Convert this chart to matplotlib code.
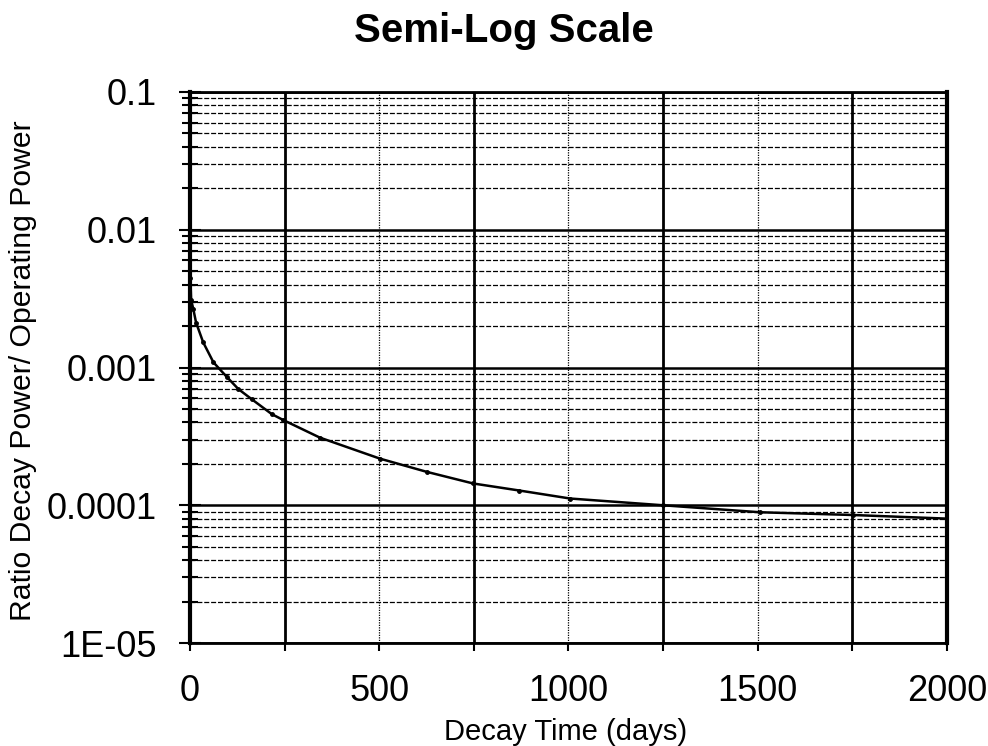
import matplotlib
matplotlib.use("Agg")
import matplotlib.pyplot as plt
from matplotlib.ticker import MultipleLocator, LogLocator, FixedFormatter, FixedLocator, NullFormatter

plt.rcParams['font.family'] = ['Liberation Sans', 'DejaVu Sans']

# Decay power ratio
decay_days = [1, 3, 9, 16, 35, 62, 98, 128, 163, 216, 247, 343, 502, 625, 748, 870, 1004, 1250, 1506, 1752, 2000]
power_ratio = [0.0045, 0.0031, 0.00264, 0.00212, 0.00152, 0.00109, 0.00085, 0.000697, 0.000589,
               0.000459, 0.000415, 0.00031, 0.000218, 0.000175, 0.000144, 0.000128, 0.000112,
               0.0001, 0.000089, 0.000085, 0.00008]

y_ticks = [1e-5, 1e-4, 1e-3, 1e-2, 1e-1]
y_tick_labels = ['1E-05', '0.0001', '0.001', '0.01', '0.1']
x_ticks = [0, 500, 1000, 1500, 2000]

fig = plt.figure(figsize=(9.88, 7.46), dpi=100)
ax = fig.add_axes([0.1923, 0.138, 0.7662, 0.7387])

ax.plot(decay_days, power_ratio, color='black', lw=1.8, marker='o', ms=2.5, zorder=5)

ax.set_yscale('log')
ax.set_ylim(1e-5, 0.1)
ax.set_xlim(0, 2000)

ax.yaxis.set_major_locator(FixedLocator(y_ticks))
ax.yaxis.set_major_formatter(FixedFormatter(y_tick_labels))
ax.yaxis.set_minor_locator(LogLocator(base=10, subs=[2, 3, 4, 5, 6, 7, 8, 9]))
ax.yaxis.set_minor_formatter(NullFormatter())
ax.xaxis.set_major_locator(FixedLocator(x_ticks))
ax.xaxis.set_minor_locator(MultipleLocator(250))

# grid: decades solid, minor decades dashed, odd 250s solid, 500s dotted
ax.grid(which='major', axis='y', color='black', lw=1.8, ls='-')
ax.grid(which='minor', axis='y', color='black', lw=0.9, ls=(0, (4, 1.5)))
ax.grid(which='major', axis='x', color='black', lw=0.9, ls=(0, (1, 1)))
ax.grid(which='minor', axis='x', color='black', lw=2.0, ls='-')

ax.tick_params(axis='y', which='major', direction='inout', length=16, width=1.5, labelsize=26, pad=16)
ax.tick_params(axis='y', which='minor', direction='inout', length=12, width=1.5)
ax.tick_params(axis='x', which='both', direction='out', length=6, width=1.5, labelsize=26, pad=16)

for s in ax.spines.values():
    s.set_color('black')
    s.set_linewidth(2)
ax.spines['left'].set_linewidth(3)
ax.spines['right'].set_linewidth(3)

fig.text(0.510, 0.944, 'Semi-Log Scale', ha='center', va='baseline', fontsize=29, fontweight='bold')
fig.text(0.572, 0.008, 'Decay Time (days)', ha='center', va='baseline', fontsize=21)
fig.text(0.023, 0.503, 'Ratio Decay Power/ Operating Power', ha='center', va='center', fontsize=21.7, rotation=90)

fig.savefig('out.png', dpi=100, facecolor='white')
